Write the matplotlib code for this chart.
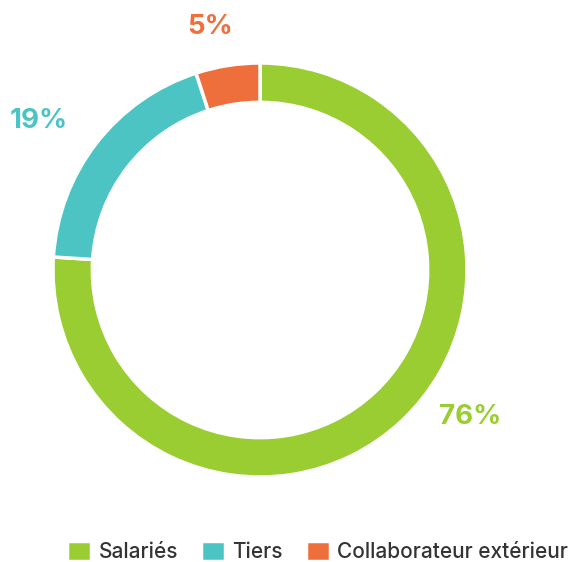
import matplotlib.pyplot as plt
import numpy as np

# Données
categories = ['Salariés', 'Tiers', 'Collaborateur extérieur']
values = [76, 19, 5]
colors = ['#9ACD32', '#4BC4C3', '#EE6F3C']
# position des étiquettes (angle en degrés, distance relative au rayon)
label_angles = [-35, 146, 101.6]
label_dist = [1.24, 1.29, 1.20]

plt.rcParams['font.family'] = ['Inter', 'DejaVu Sans']

fig = plt.figure(figsize=(5.78, 5.62), dpi=100)
ax = fig.add_axes([0, 0, 1, 1])

wedges, _ = ax.pie(values, colors=colors, startangle=90, counterclock=False,
                   radius=1.0,
                   wedgeprops=dict(width=0.19, edgecolor='white', linewidth=2.5))

for v, c, a, d in zip(values, colors, label_angles, label_dist):
    r = np.deg2rad(a)
    ax.text(d * np.cos(r), d * np.sin(r), f'{v}%', color=c, fontsize=20,
            fontweight='bold', ha='center', va='center')

# 1 unité = 207 px, centre du cercle à (260, 270) px
ax.set_xlim(-260 / 207, (578 - 260) / 207)
ax.set_ylim((270 - 562) / 207, 270 / 207)
ax.set_aspect('auto')
ax.axis('off')

fig.legend(wedges, categories, loc='center right', bbox_to_anchor=(0.997, 0.019),
           ncol=3, frameon=False, prop={'size': 15, 'weight': 'medium'},
           handlelength=1.15, handleheight=1.1,
           handletextpad=0.35, columnspacing=1.1, labelcolor='#333333',
           borderaxespad=0.0)

fig.savefig('out.png', dpi=100, facecolor='white')
